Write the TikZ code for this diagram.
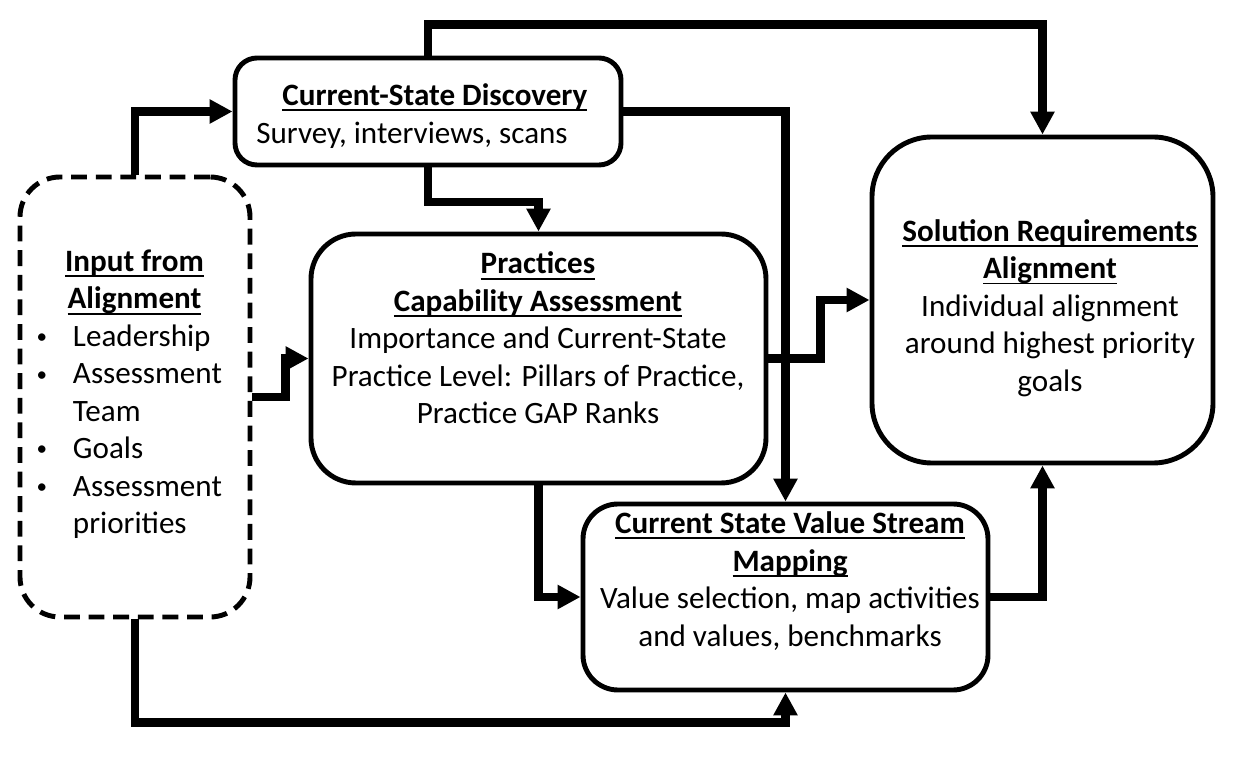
\documentclass[tikz,border=0pt]{standalone}
\usepackage{fontspec}
\setmainfont{Carlito}
\usetikzlibrary{arrows.meta}

\newsavebox\hdrbox
\newcommand{\hdr}[1]{\sbox\hdrbox{\bfseries #1}\rlap{\rule[-3.2pt]{\wd\hdrbox}{1.1pt}}\usebox\hdrbox}
\newcommand{\blt}{\hspace*{2pt}\raisebox{1.5pt}{\fontsize{12}{12}\selectfont\textbullet}}

\tikzset{
  box/.style={draw, line width=2.8pt, fill=white},
  txt/.style={align=center, inner sep=0pt, font=\fontsize{17.7}{21.3}\selectfont},
  link/.style={line width=4.6pt, -{Triangle[length=13pt,width=13pt]}}
}

\begin{document}
\begin{tikzpicture}[x=0.2mm,y=-0.2mm]
\useasboundingbox (0,0) rectangle (1235,762);
%\draw[thin,gray,step=50] (0,0) grid (1235,762);

\node[box, dash pattern=on 9pt off 5pt, rounded corners=0.8cm, minimum width=4.6cm, minimum height=8.8cm] (input) at (135,397) {};
\node[box, rounded corners=0.44cm, minimum width=7.72cm, minimum height=2.14cm] (disc) at (428,111.5) {};
\node[box, rounded corners=0.9cm, minimum width=9.1cm, minimum height=4.98cm] (prac) at (538.5,358.5) {};
\node[box, rounded corners=1.2cm, minimum width=6.82cm, minimum height=6.52cm] (sol) at (1042.5,300) {};
\node[box, rounded corners=0.7cm, minimum width=8.1cm, minimum height=3.72cm] (vsm) at (785.5,597) {};

\node[txt] (input-t) at (134.5,395) {%
\begin{tabular}{@{}p{0.8cm}@{}p{3.26cm}@{}}
\multicolumn{2}{c}{\hdr{Input from}}\\
\multicolumn{2}{c}{\hdr{Alignment}}\\
\blt & Leadership\\
\blt & Assessment\\
 & Team\\
\blt & Goals\\
\blt & Assessment\\
 & priorities
\end{tabular}};
\node[txt, align=left, anchor=west] (disc-t) at (256,116) {\hspace*{0.52cm}\hdr{Current-State Discovery}\\Survey, interviews, scans};
\node[txt] (prac-t) at (538,338) {\hdr{Practices}\\\hdr{Capability Assessment}\\Importance and Current-State\\Practice Level: Pillars of Practice,\\Practice GAP Ranks};
\node[txt] (sol-t) at (1050,308) {\hdr{Solution Requirements}\\\hdr{Alignment}\\Individual alignment\\around highest priority\\goals};
\node[txt] (vsm-t) at (790,581) {\hdr{Current State Value Stream}\\\hdr{Mapping}\\Value selection, map activities\\and values, benchmarks};

% connectors
\draw[link] (input.north) |- (disc.west);
\draw[link] (disc.north) -- ++(0,-31) -| (sol.north);
\draw[link] (disc.south) -- ++(0,35) -| (prac.north);
\draw[link] (disc.east) -| (vsm.north);
\draw[link] (input.east) -- ++(33,0) |- (prac.west);
\draw[link] (prac.east) -- ++(52,0) |- (sol.west);
\draw[link] (prac.south) |- (vsm.west);
\draw[link] (input.south) -- ++(0,103) -| (vsm.south);
\draw[link] (vsm.east) -| (sol.south);
\end{tikzpicture}
\end{document}
